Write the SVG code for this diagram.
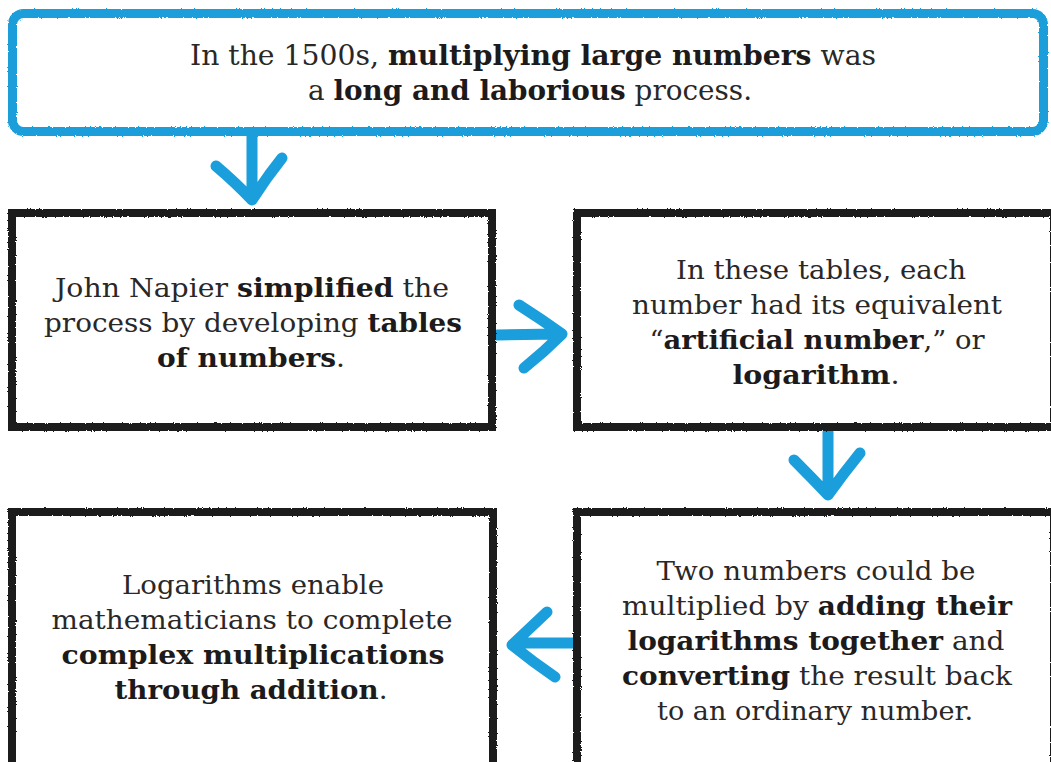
<svg xmlns="http://www.w3.org/2000/svg" width="1051" height="762" viewBox="0 0 1051 762">
<defs>
<filter id="rough" x="-5%" y="-5%" width="110%" height="110%">
<feTurbulence type="fractalNoise" baseFrequency="0.8" numOctaves="2" seed="3" result="n"/>
<feDisplacementMap in="SourceGraphic" in2="n" scale="2.5" xChannelSelector="R" yChannelSelector="G"/>
</filter>
<style>
.box{fill:#ffffff;stroke:#1c1c1c;stroke-width:8;filter:url(#rough)}
.top{fill:#ffffff;stroke:#1f9edb;stroke-width:9;filter:url(#rough)}
.arr{fill:none;stroke:#1a9fdc;stroke-width:11;stroke-linecap:round;stroke-linejoin:round}
text{font-family:"DejaVu Serif","Liberation Serif",serif;fill:#2a2727;text-anchor:middle;font-weight:normal}
.t{font-size:28px}
.b{font-size:26px}
.k{font-weight:bold;fill:#1c1a1a}
</style>
</defs>
<rect width="1051" height="762" fill="#ffffff"/>
<g id="connectors">
<path class="arr" d="M252,136 L252,197 M216,166 Q236,183 252,200 Q266,178 282,158"/>
<path class="arr" d="M497,335 L558,334 M519,305 Q541,319 562,334 Q544,352 524,368"/>
<path class="arr" d="M828,432 L828,492 M794,460 Q812,478 828,495 Q843,474 860,453"/>
<path class="arr" d="M574,643 L516,643 M547,612 Q530,628 512,645 Q533,662 555,677"/>
</g>
<g id="node-top">
<rect class="top" x="12.5" y="13.5" width="1031" height="118" rx="11"/>
<text class="t" x="533" y="65" textLength="686" lengthAdjust="spacingAndGlyphs">In the 1500s, <tspan class="k">multiplying large numbers</tspan> was</text>
<text class="t" x="530" y="100" textLength="444" lengthAdjust="spacingAndGlyphs">a <tspan class="k">long and laborious</tspan> process.</text>
</g>
<g id="node-napier">
<rect class="box" x="12" y="213" width="480" height="214"/>
<text class="b" x="252" y="297" textLength="394" lengthAdjust="spacingAndGlyphs">John Napier <tspan class="k">simplified</tspan> the</text>
<text class="b" x="253" y="332" textLength="418" lengthAdjust="spacingAndGlyphs">process by developing <tspan class="k">tables</tspan></text>
<text class="b" x="251" y="367" textLength="188" lengthAdjust="spacingAndGlyphs"><tspan class="k">of numbers</tspan>.</text>
</g>
<g id="node-tables">
<rect class="box" x="577" y="213" width="477" height="214"/>
<text class="b" x="821" y="279" textLength="290" lengthAdjust="spacingAndGlyphs">In these tables, each</text>
<text class="b" x="817" y="314" textLength="370" lengthAdjust="spacingAndGlyphs">number had its equivalent</text>
<text class="b" x="817" y="349" textLength="335" lengthAdjust="spacingAndGlyphs">“<tspan class="k">artificial number</tspan>,” or</text>
<text class="b" x="816" y="384" textLength="167" lengthAdjust="spacingAndGlyphs"><tspan class="k">logarithm</tspan>.</text>
</g>
<g id="node-adding">
<rect class="box" x="577" y="512" width="477" height="290"/>
<text class="b" x="816" y="580" textLength="319" lengthAdjust="spacingAndGlyphs">Two numbers could be</text>
<text class="b" x="817" y="615" textLength="390" lengthAdjust="spacingAndGlyphs">multiplied by <tspan class="k">adding their</tspan></text>
<text class="b" x="816" y="650" textLength="377" lengthAdjust="spacingAndGlyphs"><tspan class="k">logarithms together</tspan> and</text>
<text class="b" x="817" y="685" textLength="390" lengthAdjust="spacingAndGlyphs"><tspan class="k">converting</tspan> the result back</text>
<text class="b" x="815" y="720" textLength="316" lengthAdjust="spacingAndGlyphs">to an ordinary number.</text>
</g>
<g id="node-logarithms">
<rect class="box" x="12" y="512" width="481" height="290"/>
<text class="b" x="253" y="594" textLength="262" lengthAdjust="spacingAndGlyphs">Logarithms enable</text>
<text class="b" x="252" y="629" textLength="401" lengthAdjust="spacingAndGlyphs">mathematicians to complete</text>
<text class="b" x="253" y="664" textLength="383" lengthAdjust="spacingAndGlyphs"><tspan class="k">complex multiplications</tspan></text>
<text class="b" x="251" y="699" textLength="273" lengthAdjust="spacingAndGlyphs"><tspan class="k">through addition</tspan>.</text>
</g>
</svg>
